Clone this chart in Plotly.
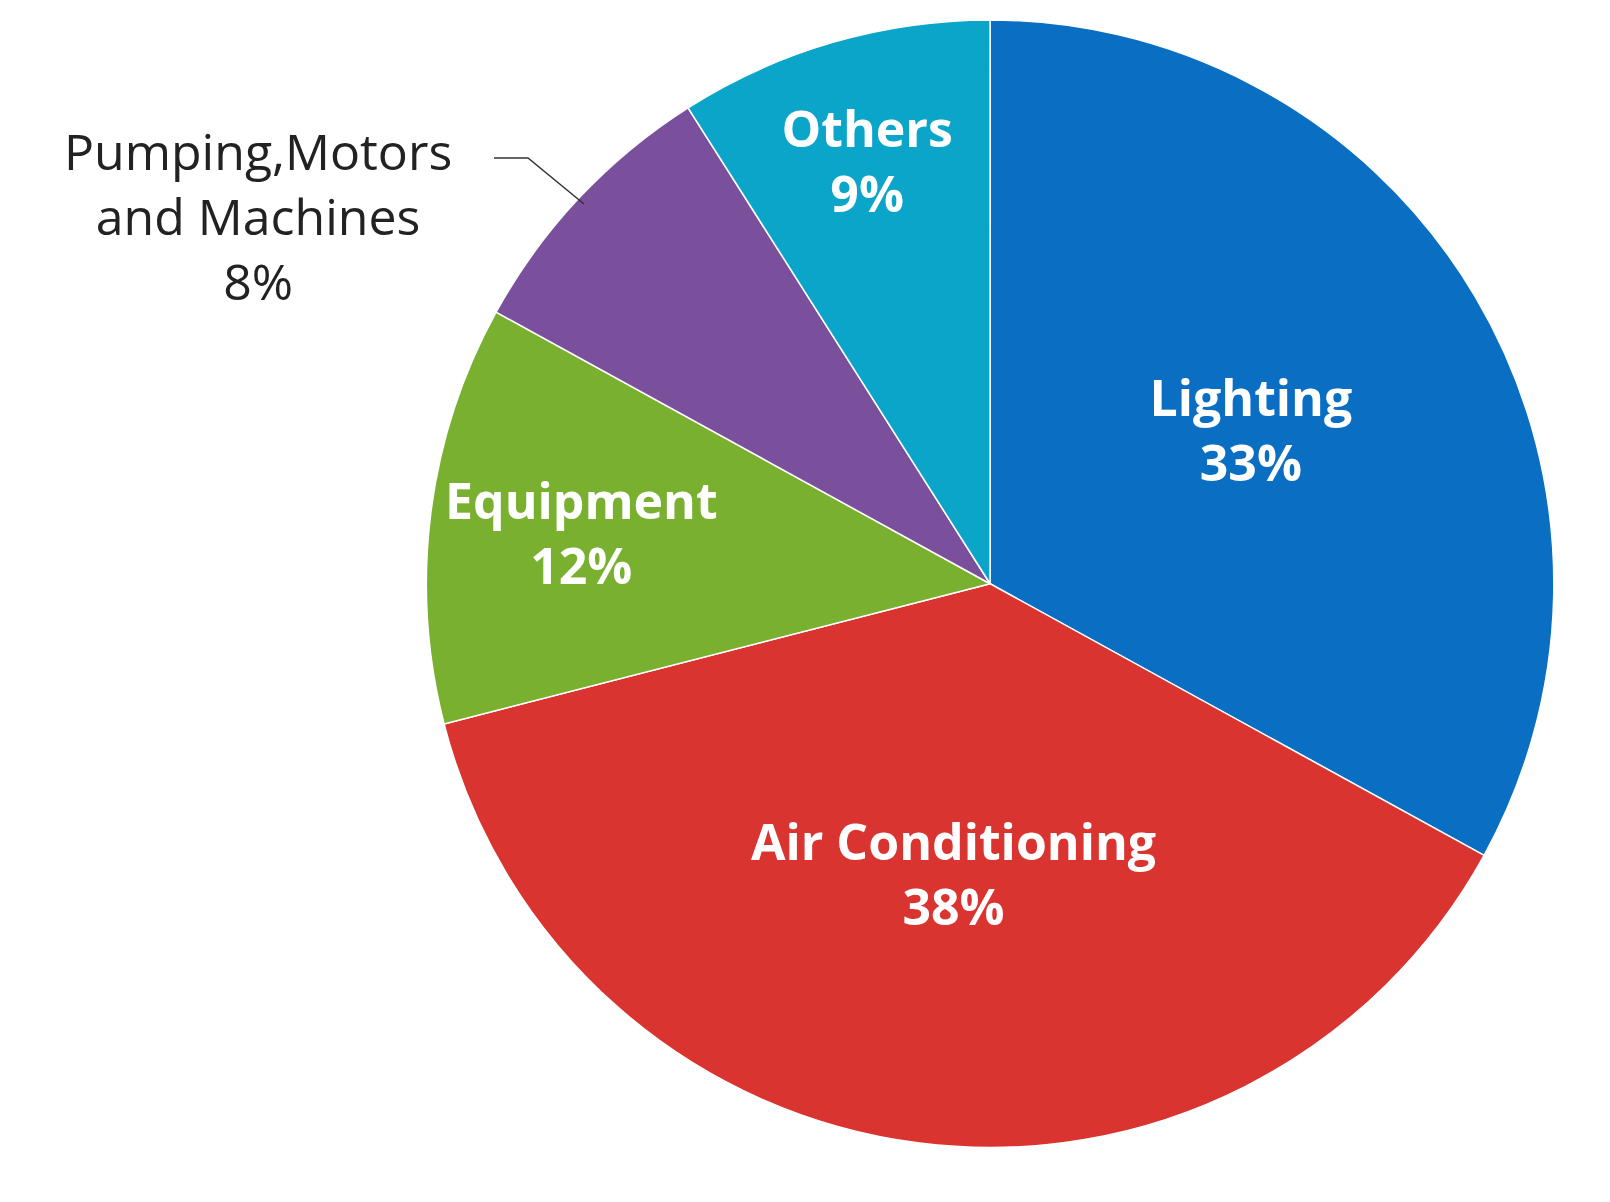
import plotly.graph_objects as go

labels = ["Lighting", "Air Conditioning", "Equipment", "Pumping,Motors<br>and Machines", "Others"]
values = [33, 38, 12, 8, 9]
colors = ["#0a6fc2", "#d9342f", "#79b030", "#7a4f9c", "#0aa5c8"]
W, H = 1610, 1202

texts = [f"{l}<br>{v}%" for l, v in zip(labels, values)]
texts[3] = ""

fig = go.Figure(go.Pie(
    labels=labels, values=values, sort=False, direction="clockwise", rotation=0,
    marker=dict(colors=colors, line=dict(color="white", width=1.5)),
    text=texts, textinfo="text", textposition="inside", insidetextorientation="horizontal",
    textfont=dict(family="Open Sans", size=50, color="white", weight="bold"),
    domain=dict(x=[0.258, 0.962], y=[0.052, 0.99]), showlegend=False, hoverinfo="label+percent"))

fig.add_annotation(x=250/W, y=1-208/H, xref="paper", yref="paper", showarrow=False,
                   xanchor="center", yanchor="middle",
                   text=f"Pumping,Motors<br>and Machines<br>{values[3]}%",
                   font=dict(family="Open Sans", size=50, color="#222"), align="center")
fig.add_shape(type="path", xref="paper", yref="paper",
              path=f"M {486/W} {1-150/H} L {520/W} {1-150/H} L {576/W} {1-196/H}",
              line=dict(color="#333", width=1.5))

fig.update_layout(width=W, height=H, margin=dict(l=0, r=0, t=0, b=0),
                  paper_bgcolor="white", uniformtext=dict(minsize=40, mode="show"))
fig.write_html("out.html")
